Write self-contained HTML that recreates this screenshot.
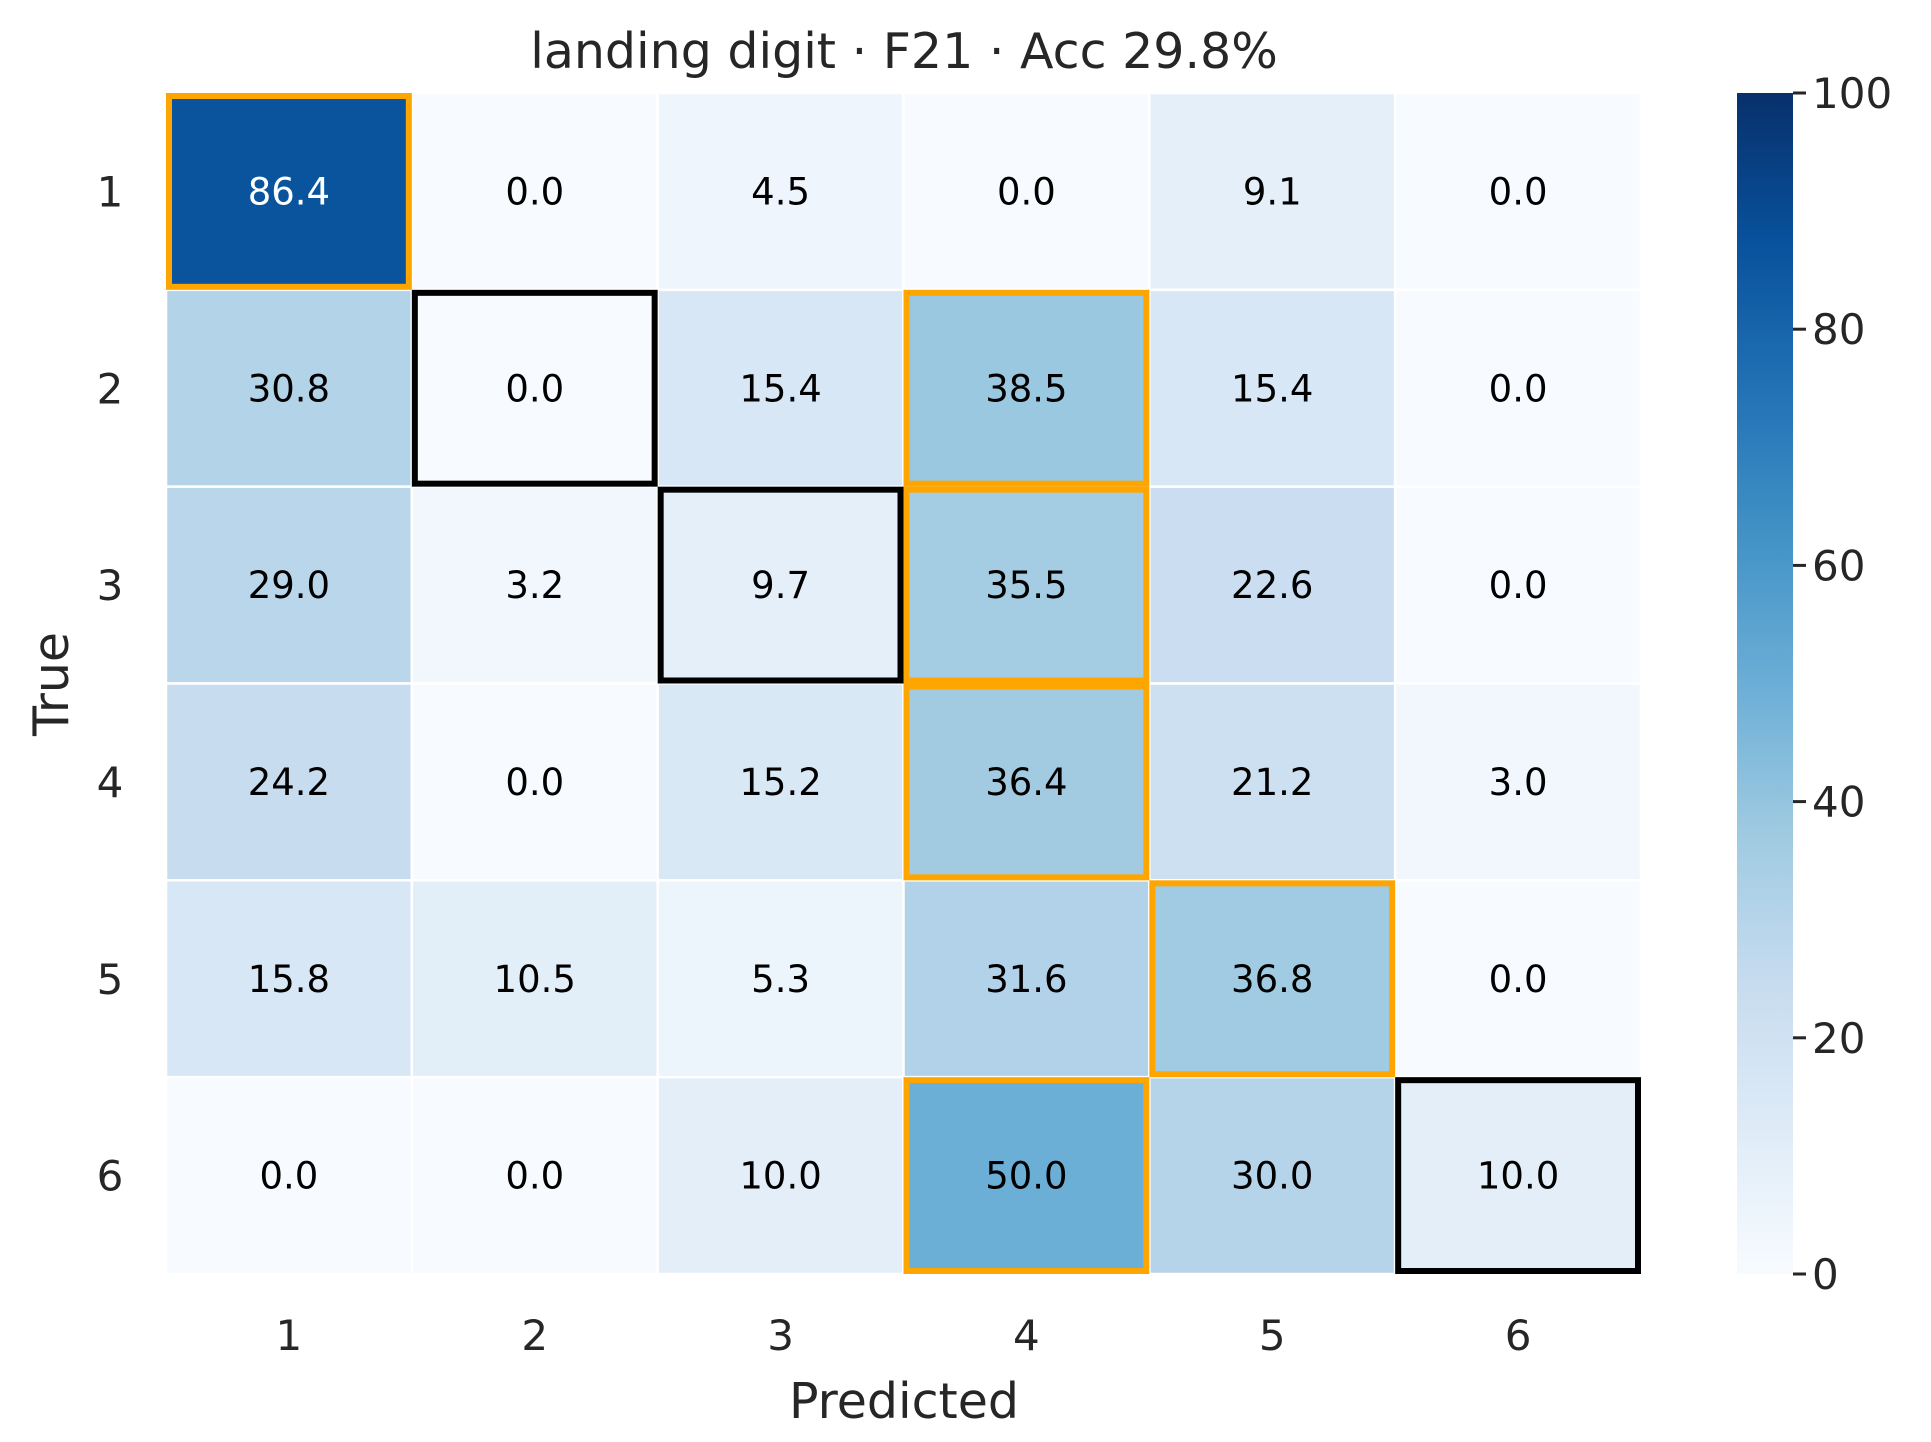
<!DOCTYPE html>
<html><head><meta charset="utf-8"><style>
html,body{margin:0;padding:0;background:#fff;}
svg{display:block;font-family:"DejaVu Sans","Liberation Sans",sans-serif;}
</style></head><body>
<svg id="chart" width="1931" height="1442" viewBox="0 0 1931 1442" xmlns="http://www.w3.org/2000/svg">
<defs><linearGradient id="cbgrad" x1="0" y1="1" x2="0" y2="0">
<stop offset="0" stop-color="#f7fbff"/><stop offset="0.125" stop-color="#deebf7"/><stop offset="0.25" stop-color="#c6dbef"/><stop offset="0.375" stop-color="#9ecae1"/><stop offset="0.5" stop-color="#6baed6"/><stop offset="0.625" stop-color="#4292c6"/><stop offset="0.75" stop-color="#2171b5"/><stop offset="0.875" stop-color="#08519c"/><stop offset="1" stop-color="#08306b"/>
</linearGradient></defs>
<text x="904" y="68" font-size="49" fill="#262626" text-anchor="middle">landing digit · F21 · Acc 29.8%</text>
<g id="cells"></g><g id="boxes"></g><g id="axes"></g>
<rect x="1737" y="93" width="56" height="1181" fill="url(#cbgrad)"/>
<g id="cbticks"></g>
<text x="904" y="1418" font-size="49" fill="#262626" text-anchor="middle">Predicted</text>
<text transform="translate(68,684) rotate(-90)" font-size="49" fill="#262626" text-anchor="middle">True</text>
</svg>
<script>
const categories = ["1","2","3","4","5","6"];
const row1 = [86.4,0.0,4.5,0.0,9.1,0.0];
const row2 = [30.8,0.0,15.4,38.5,15.4,0.0];
const row3 = [29.0,3.2,9.7,35.5,22.6,0.0];
const row4 = [24.2,0.0,15.2,36.4,21.2,3.0];
const row5 = [15.8,10.5,5.3,31.6,36.8,0.0];
const row6 = [0.0,0.0,10.0,50.0,30.0,10.0];
const colorbarTicks = [0,20,40,60,80,100];
const rows = [row1,row2,row3,row4,row5,row6];
const NS="http://www.w3.org/2000/svg";
const L=166,R=1641,T=93,B=1274,vmax=100;
const cw=(R-L)/categories.length, ch=(B-T)/rows.length;
const xs=i=>L+i*cw, ys=j=>T+j*ch, cy=v=>B-(v/vmax)*(B-T);
const stops=["#f7fbff","#deebf7","#c6dbef","#9ecae1","#6baed6","#4292c6","#2171b5","#08519c","#08306b"].map(h=>[1,3,5].map(k=>parseInt(h.substr(k,2),16)));
function blues(v){let t=Math.max(0,Math.min(1,v/vmax))*8;let i=Math.min(7,Math.floor(t)),f=t-i;const c=stops[i].map((a,k)=>Math.round(a+(stops[i+1][k]-a)*f));return `rgb(${c})`;}
function mk(tag,attrs,parent){const e=document.createElementNS(NS,tag);for(const k in attrs)e.setAttribute(k,attrs[k]);parent.appendChild(e);return e;}
const gc=document.getElementById('cells'),gb=document.getElementById('boxes'),ga=document.getElementById('axes'),gt=document.getElementById('cbticks');
rows.forEach((r,j)=>{
  r.forEach((v,i)=>{
    const rc=mk('rect',{x:xs(i),y:ys(j),width:cw,height:ch,fill:blues(v),stroke:'#fff','stroke-width':2.5},gc);
    
    
    const tx=mk('text',{x:xs(i)+cw/2,y:ys(j)+ch/2+13,'font-size':37,'text-anchor':'middle',fill:v>60?'#fff':'#000'},gc);
    tx.textContent=v.toFixed(1);
    
    
  });
  let m=0;r.forEach((v,i)=>{if(v>r[m])m=i;});
  const ob=mk('rect',{x:xs(m)+3,y:ys(j)+3,width:cw-6,height:ch-6,fill:'none',stroke:'#ffa500','stroke-width':6},gb);
  
  
  if(m!==j){
    const bb=mk('rect',{x:xs(j)+3,y:ys(j)+3,width:cw-6,height:ch-6,fill:'none',stroke:'#000','stroke-width':6},gb);
    
    
  }
});
categories.forEach((c,i)=>{
  const t=mk('text',{x:xs(i)+cw/2,y:1350,'font-size':42,'text-anchor':'middle',fill:'#262626'},ga);
  t.textContent=c;
  
  
  const u=mk('text',{x:110,y:ys(i)+ch/2+15,'font-size':42,'text-anchor':'middle',fill:'#262626'},ga);
  u.textContent=c;
  
  
});
colorbarTicks.forEach(v=>{
  const y=cy(v);
  const l=mk('line',{x1:1793,x2:1806,y1:y,y2:y,stroke:'#262626','stroke-width':3},gt);
  
  
  const t=mk('text',{x:1812,y:y+15,'font-size':42,fill:'#262626'},gt);
  t.textContent=v;
  
  
});
</script>
</body></html>
